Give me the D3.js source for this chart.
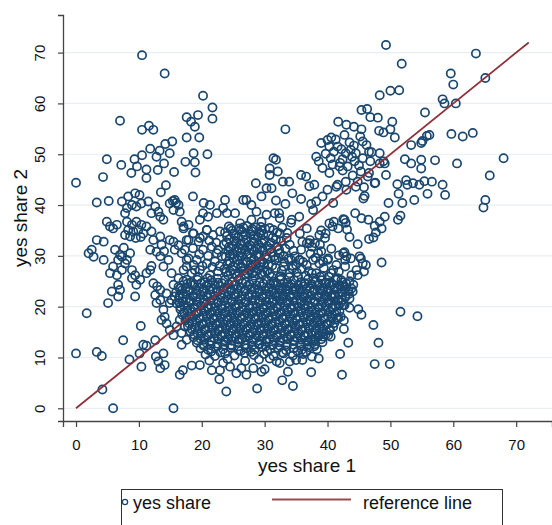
<!DOCTYPE html>
<html>
<head>
<meta charset="utf-8">
<script src="https://cdn.jsdelivr.net/npm/d3@7/dist/d3.min.js"></script>
<style>
  body { margin: 0; background: #fff; }
  text { font-family: "Liberation Sans", Arial, sans-serif; fill: #111; }
</style>
</head>
<body>
<svg id="chart" width="552" height="525"></svg>
<script>
// yes share 1 (x) / yes share 2 (y)
var upperLeft = [[0,44.4],[10.5,69.5],[14.1,65.9],[20.2,61.5],[21.7,59.2],[21.7,57.0],[7.0,56.6],[17.6,57.3],[18.3,56.4],[18.9,55.4],[19.4,57.7],[10.5,54.8],[11.6,55.6],[12.3,54.8],[19.6,53.3],[17.6,53.3],[15.3,52.5],[14.2,52.0],[11.8,51.1],[13.3,50.7],[14.9,50.2],[18.7,50.2],[20.9,50.0],[10.5,49.8],[4.9,49.0],[9.3,49.0],[12.8,49.5],[14.0,48.2],[17.4,48.5],[18.9,48.4],[7.2,47.9],[9.7,47.6],[11.2,47.0],[13.0,46.9],[8.8,46.3],[15.6,46.5],[19.0,46.4],[11.2,45.3],[4.3,45.5],[14.3,43.9],[13.5,42.5],[3.3,40.5],[5.2,40.8],[15.4,40.8],[15.9,40.4]];

var leftCluster = [[7.3,40.7],[8.3,41.7],[9.4,42.3],[10.1,42.0],[8.9,40.0],[8.1,39.4],[9.6,39.7],[10.4,40.3],[7.8,38.4],[11.5,40.7],[12.6,39.7],[13.1,38.7],[12.0,38.4],[13.4,37.7],[13.9,37.1],[14.9,40.3],[15.7,41.0],[16.3,40.0],[15.5,39.0],[16.5,38.7],[4.9,36.7],[5.4,35.8],[5.9,35.4],[6.5,36.1],[3.3,33.1],[4.4,32.8],[2.5,31.2],[2.0,30.5],[2.8,29.8],[4.4,29.2],[8.1,36.7],[8.9,36.1],[9.6,36.7],[10.4,36.1],[8.3,35.1],[9.1,34.8],[9.9,35.1],[10.7,34.4],[8.6,33.8],[9.5,33.5],[10.3,33.7],[7.8,34.1],[11.2,35.8],[12.0,34.8],[12.3,33.1],[13.4,33.8],[11.8,31.2],[12.8,30.8],[13.4,29.9],[14.7,29.2],[13.9,27.9],[15.5,32.8],[16.3,32.1],[15.7,31.2],[16.8,30.5],[17.9,29.5],[18.7,28.2],[17.6,27.9],[18.9,27.2],[17.1,35.8],[17.9,36.1],[18.7,34.4],[17.6,33.1],[19.5,32.8],[20.2,33.8],[20.8,35.1],[6.2,31.2],[7.0,30.2],[6.7,29.2],[5.9,27.9],[5.4,26.6],[6.5,26.2],[7.3,27.2],[7.8,28.5],[8.6,30.5],[8.1,29.2],[8.9,27.2],[9.4,26.2],[10.2,25.3],[9.6,24.3],[8.9,25.6],[6.7,24.3],[7.0,23.3],[5.7,23.0],[5.1,20.7],[6.7,22.0],[9.4,22.0],[11.8,27.2],[12.3,24.6],[13.4,23.3],[12.6,22.3],[13.4,21.3],[12.8,20.7],[15.2,26.6],[16.3,25.6],[15.5,24.3],[16.5,23.6],[14.4,22.6],[15.2,21.3],[17.6,25.3],[7.6,31.6],[7.3,29.8],[13.6,32.2],[14.9,33.1],[14.0,30.9],[11.2,26.6],[12.0,28.0],[12.9,24.0],[15.7,22.0],[14.9,20.7],[16.5,20.7]];

var lowerLeft = [[0,10.8],[1.7,18.7],[3.3,11.1],[4.1,10.3],[4.2,3.7],[5.9,0.0],[15.5,0.0],[7.5,13.4],[10.3,16.2],[8.5,9.6],[10.1,10.8],[10.4,8.2],[10.7,12.5],[11.2,12.3],[12.6,13.4],[12.7,10.2],[13.1,9.2],[13.9,10.8],[13.4,7.9],[14.1,8.5],[16.5,6.6],[17.0,7.5],[13.9,19.4],[14.1,18.0],[14.4,16.7],[13.6,17.4],[14.9,15.4],[15.5,14.4],[16.0,16.1],[16.5,17.4],[17.3,16.1],[16.8,14.8],[17.6,13.5],[16.8,12.5]];

var upperMid = [[31.4,49.2],[30.8,47.2],[30.8,45.9],[28.6,44.3],[30.3,43.3],[31.1,43.3],[29.5,41.7],[27.1,41.0],[27.9,40.0],[26.6,41.0],[18.6,41.7],[20.3,40.4],[21.3,40.0],[23.7,41.0],[23.4,39.4],[22.4,38.4],[24.0,38.4],[25.3,38.4],[20.2,38.4],[21.0,37.7],[19.7,37.1],[16.8,36.7],[26.1,36.4],[27.9,37.1],[29.5,36.7],[30.3,38.1],[31.6,38.4],[28.7,38.7]];

var upperRight = [[49.3,71.5],[63.6,69.8],[51.8,67.8],[59.6,65.9],[60.0,63.7],[65.1,65.0],[48.3,61.6],[50.0,62.5],[51.4,62.6],[58.3,60.8],[58.6,60.0],[60.4,60.0],[55.5,58.2],[45.4,58.7],[46.3,58.9],[46.8,57.3],[48.0,57.2],[50.3,56.4],[41.7,56.4],[43.0,55.8],[44.2,55.4],[45.4,54.9],[33.3,54.9],[48.2,54.6],[48.9,54.3],[50.0,54.9],[50.7,53.3],[42.7,53.8],[40.6,53.3],[41.3,52.9],[45.2,53.5],[45.6,52.5],[55.8,53.6],[56.2,53.8],[55.1,52.6],[54.9,52.2],[53.3,51.8],[59.7,54.0],[61.5,53.5],[63.1,54.2],[41.6,51.5],[42.2,51.0],[42.9,50.2],[43.7,50.9],[44.5,50.2],[40.3,51.5],[38.2,49.5],[38.6,48.6],[39.7,50.1],[40.5,49.2],[42.4,49.0],[41.9,47.6],[43.2,47.6],[46.6,50.5],[47.0,50.4],[48.3,50.2],[45.6,49.2],[44.3,48.6],[48.9,48.6],[49.3,45.9],[52.3,49.0],[53.3,48.2],[54.9,48.9],[57.1,48.8],[54.9,47.2],[60.6,48.2],[68.0,49.2],[65.8,45.8],[65.1,41.0],[64.8,39.5],[40.3,46.3],[42.4,46.8],[45.3,46.6],[46.4,45.6],[47.6,44.4],[44.8,44.6],[42.9,44.6],[41.6,44.0],[44.5,43.6],[37.9,44.0],[37.1,43.7],[35.8,45.9],[36.6,45.6],[33.9,44.6],[32.9,44.6],[31.8,48.9],[32.1,46.6],[51.1,44.1],[52.5,44.9],[52.7,44.0],[54.6,44.0],[55.4,44.7],[56.6,44.6],[58.3,44.0],[58.7,42.0],[55.9,42.2],[53.8,41.0],[51.3,42.2],[51.9,40.4],[49.7,40.4],[45.7,41.3],[45.9,41.8],[37.4,40.2],[38.2,40.7],[39.2,41.7],[40.0,43.0],[41.4,43.6],[34.4,42.3],[35.8,41.2],[33.3,40.2],[48.3,48.2],[49.1,48.2],[46.6,46.3],[47.5,44.3],[53.6,44.3],[40.9,40.4],[37.7,39.0],
  [39.0,52.2],[40.0,52.8],[41.0,50.5],[43.5,52.3],[44.2,51.7],[46.2,51.8],[42.0,48.3],[43.9,49.5],[45.0,47.8],[46.8,48.6],[39.2,47.3],[40.8,48.0],[44.0,45.8],[45.8,43.5],[43.0,43.0]];

var midRight = [[51.6,37.9],[51.2,37.1],[49.1,37.7],[48.3,36.7],[48.6,35.4],[47.5,35.9],[47.3,33.6],[46.6,33.3],[47.7,34.6],[46.5,37.1],[45.4,37.4],[44.4,38.4],[42.9,36.5],[42.5,37.2],[43.1,35.2],[41.7,35.4],[41.0,36.7],[40.3,36.4],[39.0,35.0],[44.8,32.3],[43.5,33.7],[48.6,28.7],[43.0,29.9],[42.5,30.5],[42.8,29.2],[45.1,29.9],[45.6,28.5],[44.6,27.2],[42.8,27.9],[43.8,26.2],[40.1,29.5],[40.9,27.2],[42.2,25.2],[39.3,28.9],[37.2,33.1],[38.0,32.5],[40.8,35.8],[42.7,37.1],[39.7,34.4],[38.7,34.1],[45.8,26.9],[44.8,26.2],[35.5,37.7],[34.2,36.5],[31.8,40.9],[32.3,38.4],[33.5,33.5],[34.0,32.2],[34.8,29.9],[33.8,29.5],[35.6,29.2],[36.7,28.2],[36.7,32.5],[32.4,34.4],[31.4,35.1],[31.9,31.8],[32.4,30.5],[31.6,29.2],[33.0,27.9],[34.0,26.6],[35.3,25.9],[32.4,25.9],[31.4,24.6],[33.5,24.0],[34.8,23.3],[36.4,24.6],[36.1,22.0],[33.0,22.0],[31.6,22.6],[32.4,37.4],[34.3,37.1],[36.7,35.4],[35.6,34.4],[36.0,32.8],[37.1,32.5],[37.7,29.2],[38.5,30.5],[37.5,31.8],[38.8,32.2],[39.6,33.5],[37.5,26.6],[38.8,25.9],[39.8,24.6],[38.8,23.3],[39.8,22.0],[38.2,26.6],[38.7,28.5],[40.0,29.2],[44.0,23.0],[42.4,24.0],[41.6,25.6],[40.3,24.6],[39.2,23.3],[41.1,22.0],[42.7,20.3],[45.3,29.5],[46.1,28.2],[43.7,29.5],[42.7,30.7],[34.2,29.2],[35.0,28.2],[35.5,29.2]];

var lowerRight = [[51.6,19.0],[54.3,18.1],[47.3,16.4],[48.1,12.9],[47.5,8.7],[49.9,8.7],[42.3,6.6],[37.4,7.1],[32.8,5.5],[34.5,4.4],[33.7,7.2],[42.0,10.7],[43.3,12.9],[40.5,14.1],[42.6,15.6],[42.6,17.3],[45.4,18.4],[44.9,19.5],[43.5,19.8],[43.5,21.6],[42.5,20.3],[44.1,24.3],[36.0,9.5],[35.0,9.5]];

var lowerEdge = [[18.4,8.4],[19.7,8.5],[21.6,7.5],[22.9,7.5],[22.8,5.7],[23.9,3.3],[23.4,8.9],[24.5,8.2],[25.5,6.9],[27.1,6.6],[26.3,7.9],[28.2,7.9],[29.5,7.2],[30.0,7.7],[28.8,3.9],[32.4,8.9],[34.0,9.2],[30.8,9.8],[31.9,9.2],[37.7,13.4],[39.3,14.1],[40.1,14.4]];

var tower = [[24.3,35.8],[25.9,35.4],[27.2,35.9],[28.6,35.6],[30.1,35.3],[23.7,34.6],[25.1,34.3],[26.5,34.7],[27.8,34.2],[29.2,34.5],[30.6,34.0],[24.4,33.3],[25.8,33.6],[27.1,33.1],[28.4,33.4],[29.9,33.0],[23.5,32.2],[24.9,32.0],[26.2,32.4],[27.6,32.1],[29.0,32.3],[30.4,31.9],[24.2,31.0],[25.6,30.8],[26.9,31.2],[28.3,30.9],[29.7,31.1],[31.0,30.7],[23.8,29.8],[25.1,29.5],[26.4,29.9],[27.8,29.6],[29.1,29.8],[30.5,29.4],[24.5,28.6],[25.8,28.4],[27.2,28.8],[28.6,28.3],[29.9,28.6],[31.2,28.1],[23.6,27.4],[24.9,27.2],[26.3,27.6],[27.6,27.1],[29.0,27.4],[30.4,27.0],[24.2,26.2],[25.6,26.0],[26.9,26.4],[28.3,26.1],[29.7,26.3],[31.1,25.9],[24.9,35.0],[26.2,35.1],[27.9,34.9],[29.5,35.0],[25.2,33.0],[26.6,33.8],[28.9,33.7],[24.3,31.7],[25.9,31.6],[27.3,31.9],[28.8,31.5],[25.0,30.3],[26.2,30.6],[27.6,30.4],[29.1,30.3],[24.3,29.0],[25.7,29.2],[27.0,28.9],[28.3,29.3],[29.6,28.9],[25.0,28.0],[26.3,27.9],[27.9,27.8],[29.3,27.8],[24.5,26.9],[25.9,26.7],[27.3,26.6],[28.6,26.9],[30.0,26.7],[21.2,33.0],[22.3,32.6],[19.6,30.3],[21.0,30.0],[22.6,31.2],[20.1,28.0],[21.7,27.8],[22.8,28.0],[19.4,25.9],[20.9,25.6],[22.5,25.5],[17.1,35.4],[18.6,34.4],[17.9,33.1],[19.7,33.5],[20.8,35.1],[21.8,34.1],[22.9,34.8],[17.3,31.2],[18.6,31.5],[20.2,31.2],[21.6,31.8],[22.4,30.5],[17.6,29.2],[19.2,29.2],[20.8,28.5],[22.1,28.9],[23.2,29.9],[17.1,27.2],[18.4,26.6],[19.7,27.2],[21.3,26.2],[22.6,26.9]];

var towerFill = [[24.6,35.4],[26.6,35.6],[28.0,35.3],[29.4,35.7],[30.8,35.5],[24.0,33.9],[25.4,34.0],[26.9,34.2],[28.3,34.0],[29.8,34.2],[31.3,33.6],[23.9,32.7],[25.5,32.8],[26.8,32.6],[28.2,32.8],[29.6,32.5],[31.0,32.6],[24.6,31.4],[26.4,31.3],[27.9,31.3],[29.4,31.6],[30.9,31.4],[24.5,30.3],[25.8,30.0],[27.2,30.3],[28.7,30.1],[30.1,30.0],[31.5,29.9],[24.1,28.4],[26.5,28.5],[27.8,28.4],[29.2,28.6],[30.6,28.3],[23.9,26.7],[25.3,26.5],[26.6,27.0],[28.0,26.5],[29.4,26.6],[30.8,26.5],[32.0,34.6],[31.8,33.2],[32.3,31.2],[33.0,30.0],[32.8,35.6],[33.6,34.5]];

var towerRight = [[32.2,29.6],[33.1,28.8],[34.5,28.0],[35.9,27.4],[37.0,27.0],[38.1,29.6],[39.4,27.6],[40.6,26.6],[41.4,28.2],[32.7,27.1],[33.9,25.8],[35.1,26.7],[36.5,26.1],[37.8,25.6],[39.1,26.1],[40.2,25.9],[41.8,26.9],[31.8,27.6],[32.6,26.0],[34.4,27.5],[36.1,28.8],[37.3,30.4],[39.0,30.9],[40.6,31.4],[41.8,30.1],[35.8,31.2],[34.6,31.0],[33.3,31.4],[32.6,32.9]];

var core = [
  [17.1,25.0],[18.2,24.7],[19.3,25.3],[20.4,24.8],[21.5,25.2],[22.6,24.7],[23.7,25.3],[24.8,24.9],[25.9,25.4],[27.0,24.8],[28.1,25.2],[29.2,24.7],[30.3,25.3],[31.4,24.9],[32.5,25.3],[33.6,24.7],[34.7,25.2],[35.8,24.8],[36.9,25.4],[38.0,24.9],[39.1,25.2],[40.2,24.7],[41.3,25.3],[42.4,24.8],[43.5,25.0],
  [16.3,23.9],[17.4,23.6],[18.5,24.2],[19.6,23.7],[20.7,24.1],[21.8,23.5],[22.9,24.0],[24.0,23.6],[25.1,24.2],[26.2,23.7],[27.3,24.1],[28.4,23.5],[29.5,24.0],[30.6,23.6],[31.7,24.2],[32.8,23.7],[33.9,24.1],[35.0,23.5],[36.1,24.0],[37.2,23.6],[38.3,24.2],[39.4,23.7],[40.5,24.1],[41.6,23.5],[42.7,24.0],[43.8,23.6],
  [15.9,22.8],[17.0,22.5],[18.1,23.1],[19.2,22.6],[20.3,23.0],[21.4,22.4],[22.5,22.9],[23.6,22.5],[24.7,23.1],[25.8,22.6],[26.9,23.0],[28.0,22.4],[29.1,22.9],[30.2,22.5],[31.3,23.1],[32.4,22.6],[33.5,23.0],[34.6,22.4],[35.7,22.9],[36.8,22.5],[37.9,23.1],[39.0,22.6],[40.1,23.0],[41.2,22.4],[42.3,22.9],[43.4,22.5],
  [16.4,21.7],[17.5,21.4],[18.6,22.0],[19.7,21.5],[20.8,21.9],[21.9,21.3],[23.0,21.8],[24.1,21.4],[25.2,22.0],[26.3,21.5],[27.4,21.9],[28.5,21.3],[29.6,21.8],[30.7,21.4],[31.8,22.0],[32.9,21.5],[34.0,21.9],[35.1,21.3],[36.2,21.8],[37.3,21.4],[38.4,22.0],[39.5,21.5],[40.6,21.9],[41.7,21.3],[42.8,21.8],
  [16.0,20.6],[17.1,20.3],[18.2,20.9],[19.3,20.4],[20.4,20.8],[21.5,20.2],[22.6,20.7],[23.7,20.3],[24.8,20.9],[25.9,20.4],[27.0,20.8],[28.1,20.2],[29.2,20.7],[30.3,20.3],[31.4,20.9],[32.5,20.4],[33.6,20.8],[34.7,20.2],[35.8,20.7],[36.9,20.3],[38.0,20.9],[39.1,20.4],[40.2,20.8],[41.3,20.2],[42.2,20.9],
  [16.6,19.5],[17.7,19.2],[18.8,19.8],[19.9,19.3],[21.0,19.7],[22.1,19.1],[23.2,19.6],[24.3,19.2],[25.4,19.8],[26.5,19.3],[27.6,19.7],[28.7,19.1],[29.8,19.6],[30.9,19.2],[32.0,19.8],[33.1,19.3],[34.2,19.7],[35.3,19.1],[36.4,19.6],[37.5,19.2],[38.6,19.8],[39.7,19.3],[40.8,19.7],[41.9,19.1],
  [16.9,18.4],[18.0,18.1],[19.1,18.7],[20.2,18.2],[21.3,18.6],[22.4,18.0],[23.5,18.5],[24.6,18.1],[25.7,18.7],[26.8,18.2],[27.9,18.6],[29.0,18.0],[30.1,18.5],[31.2,18.1],[32.3,18.7],[33.4,18.2],[34.5,18.6],[35.6,18.0],[36.7,18.5],[37.8,18.1],[38.9,18.7],[40.0,18.2],[41.1,18.6],[42.1,18.0],
  [17.4,17.3],[18.5,17.0],[19.6,17.6],[20.7,17.1],[21.8,17.5],[22.9,16.9],[24.0,17.4],[25.1,17.0],[26.2,17.6],[27.3,17.1],[28.4,17.5],[29.5,16.9],[30.6,17.4],[31.7,17.0],[32.8,17.6],[33.9,17.1],[35.0,17.5],[36.1,16.9],[37.2,17.4],[38.3,17.0],[39.4,17.6],[40.5,17.1],[41.5,17.5],
  [17.8,16.2],[18.9,15.9],[20.0,16.5],[21.1,16.0],[22.2,16.4],[23.3,15.8],[24.4,16.3],[25.5,15.9],[26.6,16.5],[27.7,16.0],[28.8,16.4],[29.9,15.8],[31.0,16.3],[32.1,15.9],[33.2,16.5],[34.3,16.0],[35.4,16.4],[36.5,15.8],[37.6,16.3],[38.7,15.9],[39.8,16.5],[40.9,16.0],
  [18.2,15.1],[19.3,14.8],[20.4,15.4],[21.5,14.9],[22.6,15.3],[23.7,14.7],[24.8,15.2],[25.9,14.8],[27.0,15.4],[28.1,14.9],[29.2,15.3],[30.3,14.7],[31.4,15.2],[32.5,14.8],[33.6,15.4],[34.7,14.9],[35.8,15.3],[36.9,14.7],[38.0,15.2],[39.1,14.8],[40.3,15.3],
  [18.7,14.0],[19.8,13.7],[20.9,14.3],[22.0,13.8],[23.1,14.2],[24.2,13.6],[25.3,14.1],[26.4,13.7],[27.5,14.3],[28.6,13.8],[29.7,14.2],[30.8,13.6],[31.9,14.1],[33.0,13.7],[34.1,14.3],[35.2,13.8],[36.3,14.2],[37.4,13.6],[38.5,14.1],
  [19.2,12.9],[20.3,12.6],[21.4,13.2],[22.5,12.7],[23.6,13.1],[24.7,12.5],[25.8,13.0],[26.9,12.6],[28.0,13.2],[29.1,12.7],[30.2,13.1],[31.3,12.5],[32.4,13.0],[33.5,12.6],[34.6,13.2],[35.7,12.7],[36.8,13.1],[38.0,12.6],[39.2,13.0],
  [19.8,11.8],[21.0,11.5],[22.2,12.0],[23.4,11.6],[24.6,11.9],[25.9,11.4],[27.1,11.8],[28.4,11.5],[29.6,12.0],[30.9,11.6],[32.1,11.9],[33.4,11.4],[34.6,11.8],[35.9,11.5],[37.1,12.0],[38.3,11.6],
  [20.6,10.6],[22.1,10.3],[23.7,10.8],[25.2,10.4],[26.8,10.9],[28.3,10.5],[29.9,10.7],[31.4,10.3],[33.0,10.8],[34.5,10.4],[36.1,10.7],[37.5,10.2],
  [21.2,9.4],[24.1,9.7],[26.9,9.3],[29.1,9.6],[38.6,9.8]
];

// second layer of the solid centre, between the rows above
var coreFill = [
  [17.7,24.5],[18.8,24.3],[19.9,24.6],[21.0,24.4],[22.1,24.3],[23.2,24.6],[24.3,24.4],[25.4,24.3],[26.5,24.6],[27.6,24.4],[28.7,24.2],[29.8,24.5],[30.9,24.4],[32.0,24.3],[33.1,24.6],[34.2,24.4],[35.3,24.2],[36.4,24.5],[37.5,24.4],[38.6,24.3],[39.7,24.6],[40.8,24.4],[41.9,24.2],[43.0,24.5],
  [16.9,23.3],[18.0,23.4],[19.1,23.2],[20.2,23.5],[21.3,23.3],[22.4,23.2],[23.5,23.4],[24.6,23.3],[25.7,23.5],[26.8,23.2],[27.9,23.4],[29.0,23.3],[30.1,23.2],[31.2,23.5],[32.3,23.3],[33.4,23.4],[34.5,23.2],[35.6,23.3],[36.7,23.5],[37.8,23.3],[38.9,23.2],[40.0,23.4],[41.1,23.3],[42.2,23.5],[43.3,23.2],
  [16.5,22.2],[17.6,22.3],[18.7,22.1],[19.8,22.4],[20.9,22.2],[22.0,22.1],[23.1,22.3],[24.2,22.2],[25.3,22.4],[26.4,22.1],[27.5,22.3],[28.6,22.2],[29.7,22.1],[30.8,22.4],[31.9,22.2],[33.0,22.3],[34.1,22.1],[35.2,22.2],[36.3,22.4],[37.4,22.2],[38.5,22.1],[39.6,22.3],[40.7,22.2],[41.8,22.4],[42.9,22.1],
  [17.0,21.1],[18.1,21.2],[19.2,21.0],[20.3,21.3],[21.4,21.1],[22.5,21.0],[23.6,21.2],[24.7,21.1],[25.8,21.3],[26.9,21.0],[28.0,21.2],[29.1,21.1],[30.2,21.0],[31.3,21.3],[32.4,21.1],[33.5,21.2],[34.6,21.0],[35.7,21.1],[36.8,21.3],[37.9,21.1],[39.0,21.0],[40.1,21.2],[41.2,21.1],[42.3,21.3],
  [16.6,20.0],[17.7,20.1],[18.8,19.9],[19.9,20.2],[21.0,20.0],[22.1,19.9],[23.2,20.1],[24.3,20.0],[25.4,20.2],[26.5,19.9],[27.6,20.1],[28.7,20.0],[29.8,19.9],[30.9,20.2],[32.0,20.0],[33.1,20.1],[34.2,19.9],[35.3,20.0],[36.4,20.2],[37.5,20.0],[38.6,19.9],[39.7,20.1],[40.8,20.0],[41.8,20.2],
  [17.2,18.9],[18.3,19.0],[19.4,18.8],[20.5,19.1],[21.6,18.9],[22.7,18.8],[23.8,19.0],[24.9,18.9],[26.0,19.1],[27.1,18.8],[28.2,19.0],[29.3,18.9],[30.4,18.8],[31.5,19.1],[32.6,18.9],[33.7,19.0],[34.8,18.8],[35.9,18.9],[37.0,19.1],[38.1,18.9],[39.2,18.8],[40.3,19.0],[41.4,18.9],
  [17.5,17.8],[18.6,17.9],[19.7,17.7],[20.8,18.0],[21.9,17.8],[23.0,17.7],[24.1,17.9],[25.2,17.8],[26.3,18.0],[27.4,17.7],[28.5,17.9],[29.6,17.8],[30.7,17.7],[31.8,18.0],[32.9,17.8],[34.0,17.9],[35.1,17.7],[36.2,17.8],[37.3,18.0],[38.4,17.8],[39.5,17.7],[40.6,17.9],[41.7,17.8],
  [18.0,16.7],[19.1,16.8],[20.2,16.6],[21.3,16.9],[22.4,16.7],[23.5,16.6],[24.6,16.8],[25.7,16.7],[26.8,16.9],[27.9,16.6],[29.0,16.8],[30.1,16.7],[31.2,16.6],[32.3,16.9],[33.4,16.7],[34.5,16.8],[35.6,16.6],[36.7,16.7],[37.8,16.9],[38.9,16.7],[40.0,16.6],[41.1,16.8],
  [18.4,15.6],[19.5,15.7],[20.6,15.5],[21.7,15.8],[22.8,15.6],[23.9,15.5],[25.0,15.7],[26.1,15.6],[27.2,15.8],[28.3,15.5],[29.4,15.7],[30.5,15.6],[31.6,15.5],[32.7,15.8],[33.8,15.6],[34.9,15.7],[36.0,15.5],[37.1,15.6],[38.2,15.8],[39.3,15.6],[40.4,15.5],
  [18.8,14.5],[19.9,14.6],[21.0,14.4],[22.1,14.7],[23.2,14.5],[24.3,14.4],[25.4,14.6],[26.5,14.5],[27.6,14.7],[28.7,14.4],[29.8,14.6],[30.9,14.5],[32.0,14.4],[33.1,14.7],[34.2,14.5],[35.3,14.6],[36.4,14.4],[37.5,14.5],[38.6,14.7],[39.7,14.5],
  [19.3,13.4],[20.4,13.5],[21.5,13.3],[22.6,13.6],[23.7,13.4],[24.8,13.3],[25.9,13.5],[27.0,13.4],[28.1,13.6],[29.2,13.3],[30.3,13.5],[31.4,13.4],[32.5,13.3],[33.6,13.6],[34.7,13.4],[35.8,13.5],[36.9,13.3],[38.0,13.4],[39.0,13.6],
  [20.3,12.3],[21.4,12.4],[22.5,12.2],[23.6,12.5],[24.7,12.3],[25.8,12.2],[26.9,12.4],[28.0,12.3],[29.1,12.5],[30.2,12.2],[31.3,12.4],[32.4,12.3],[33.5,12.2],[34.6,12.5],[35.7,12.3],[36.8,12.4],[37.9,12.2],
  [21.5,11.2],[23.0,11.0],[26.2,11.3],[27.8,11.1],[30.4,11.2],[32.8,11.0],[35.2,11.3],[36.6,11.1]
];

var xTicks = [0, 10, 20, 30, 40, 50, 60, 70];
var yTicks = [0, 10, 20, 30, 40, 50, 60, 70];
var refLine = [0, 72];   // y = x, drawn over the data range

var points = [].concat(upperLeft, leftCluster, lowerLeft, upperMid, upperRight,
  midRight, lowerRight, lowerEdge, tower, towerFill, towerRight, core, coreFill);

var navy = '#1a476f', maroon = '#903038';

var svg = d3.select('#chart');

// plot region: y axis sits at x=63, x axis at y=421
var x = d3.scaleLinear().domain([-2.07, 75.7]).range([63, 552]);
var y = d3.scaleLinear().domain([-2.5, 77.4]).range([421, 15]);

// horizontal grid
svg.append('g').selectAll('line')
  .data(yTicks)
  .enter().append('line')
  .attr('x1', 64).attr('x2', 552)
  .attr('y1', function(d) { return y(d); })
  .attr('y2', function(d) { return y(d); })
  .attr('stroke', '#e9eef2')
  .attr('stroke-width', 1.2);

// scatter
svg.append('g').selectAll('circle')
  .data(points)
  .enter().append('circle')
  .attr('cx', function(d) { return x(d[0]); })
  .attr('cy', function(d) { return y(d[1]); })
  .attr('r', 4.1)
  .attr('fill', 'none')
  .attr('stroke', navy)
  .attr('stroke-width', 1.7);

// reference line
svg.append('line')
  .attr('x1', x(refLine[0])).attr('y1', y(refLine[0]))
  .attr('x2', x(refLine[1])).attr('y2', y(refLine[1]))
  .attr('stroke', maroon)
  .attr('stroke-width', 1.8);

// axes
var yAxis = svg.append('g')
  .attr('transform', 'translate(63,0)')
  .call(d3.axisLeft(y).tickValues(yTicks).tickSize(5).tickFormat(d3.format('d')));
yAxis.select('.domain').attr('stroke', '#444').attr('stroke-width', 1.3);
yAxis.selectAll('.tick line').attr('stroke', '#444').attr('stroke-width', 1.2);
yAxis.selectAll('.tick text')
  .attr('x', null).attr('dy', null)
  .attr('transform', 'translate(-18,0) rotate(-90)')
  .attr('text-anchor', 'middle')
  .style('font-size', '15px')
  .style('font-family', '"Liberation Sans", Arial, sans-serif')
  .attr('fill', '#111');

var xAxis = svg.append('g')
  .attr('transform', 'translate(0,421)')
  .call(d3.axisBottom(x).tickValues(xTicks).tickSize(6).tickPadding(12).tickFormat(d3.format('d')));
xAxis.select('.domain').attr('stroke', '#444').attr('stroke-width', 1.3);
xAxis.selectAll('.tick line').attr('stroke', '#444').attr('stroke-width', 1.2);
xAxis.selectAll('.tick text')
  .style('font-size', '15px')
  .style('font-family', '"Liberation Sans", Arial, sans-serif')
  .attr('fill', '#111');

// axis titles
svg.append('text')
  .attr('x', 307).attr('y', 472)
  .attr('text-anchor', 'middle')
  .style('font-size', '19px')
  .text('yes share 1');

svg.append('text')
  .attr('transform', 'translate(27,218) rotate(-90)')
  .attr('text-anchor', 'middle')
  .style('font-size', '19px')
  .text('yes share 2');

// legend
var legend = svg.append('g');
legend.append('rect')
  .attr('x', 121.5).attr('y', 489.5)
  .attr('width', 381).attr('height', 40)
  .attr('fill', '#fff')
  .attr('stroke', '#333')
  .attr('stroke-width', 1);
legend.append('circle')
  .attr('cx', 125).attr('cy', 502)
  .attr('r', 2.6)
  .attr('fill', 'none')
  .attr('stroke', navy)
  .attr('stroke-width', 1.3);
legend.append('text')
  .attr('x', 133).attr('y', 509)
  .style('font-size', '18px')
  .text('yes share');
legend.append('line')
  .attr('x1', 272).attr('x2', 351)
  .attr('y1', 499.5).attr('y2', 499.5)
  .attr('stroke', '#9a4a50')
  .attr('stroke-width', 1.8);
legend.append('text')
  .attr('x', 363).attr('y', 509)
  .style('font-size', '18px')
  .text('reference line');
</script>
</body>
</html>
